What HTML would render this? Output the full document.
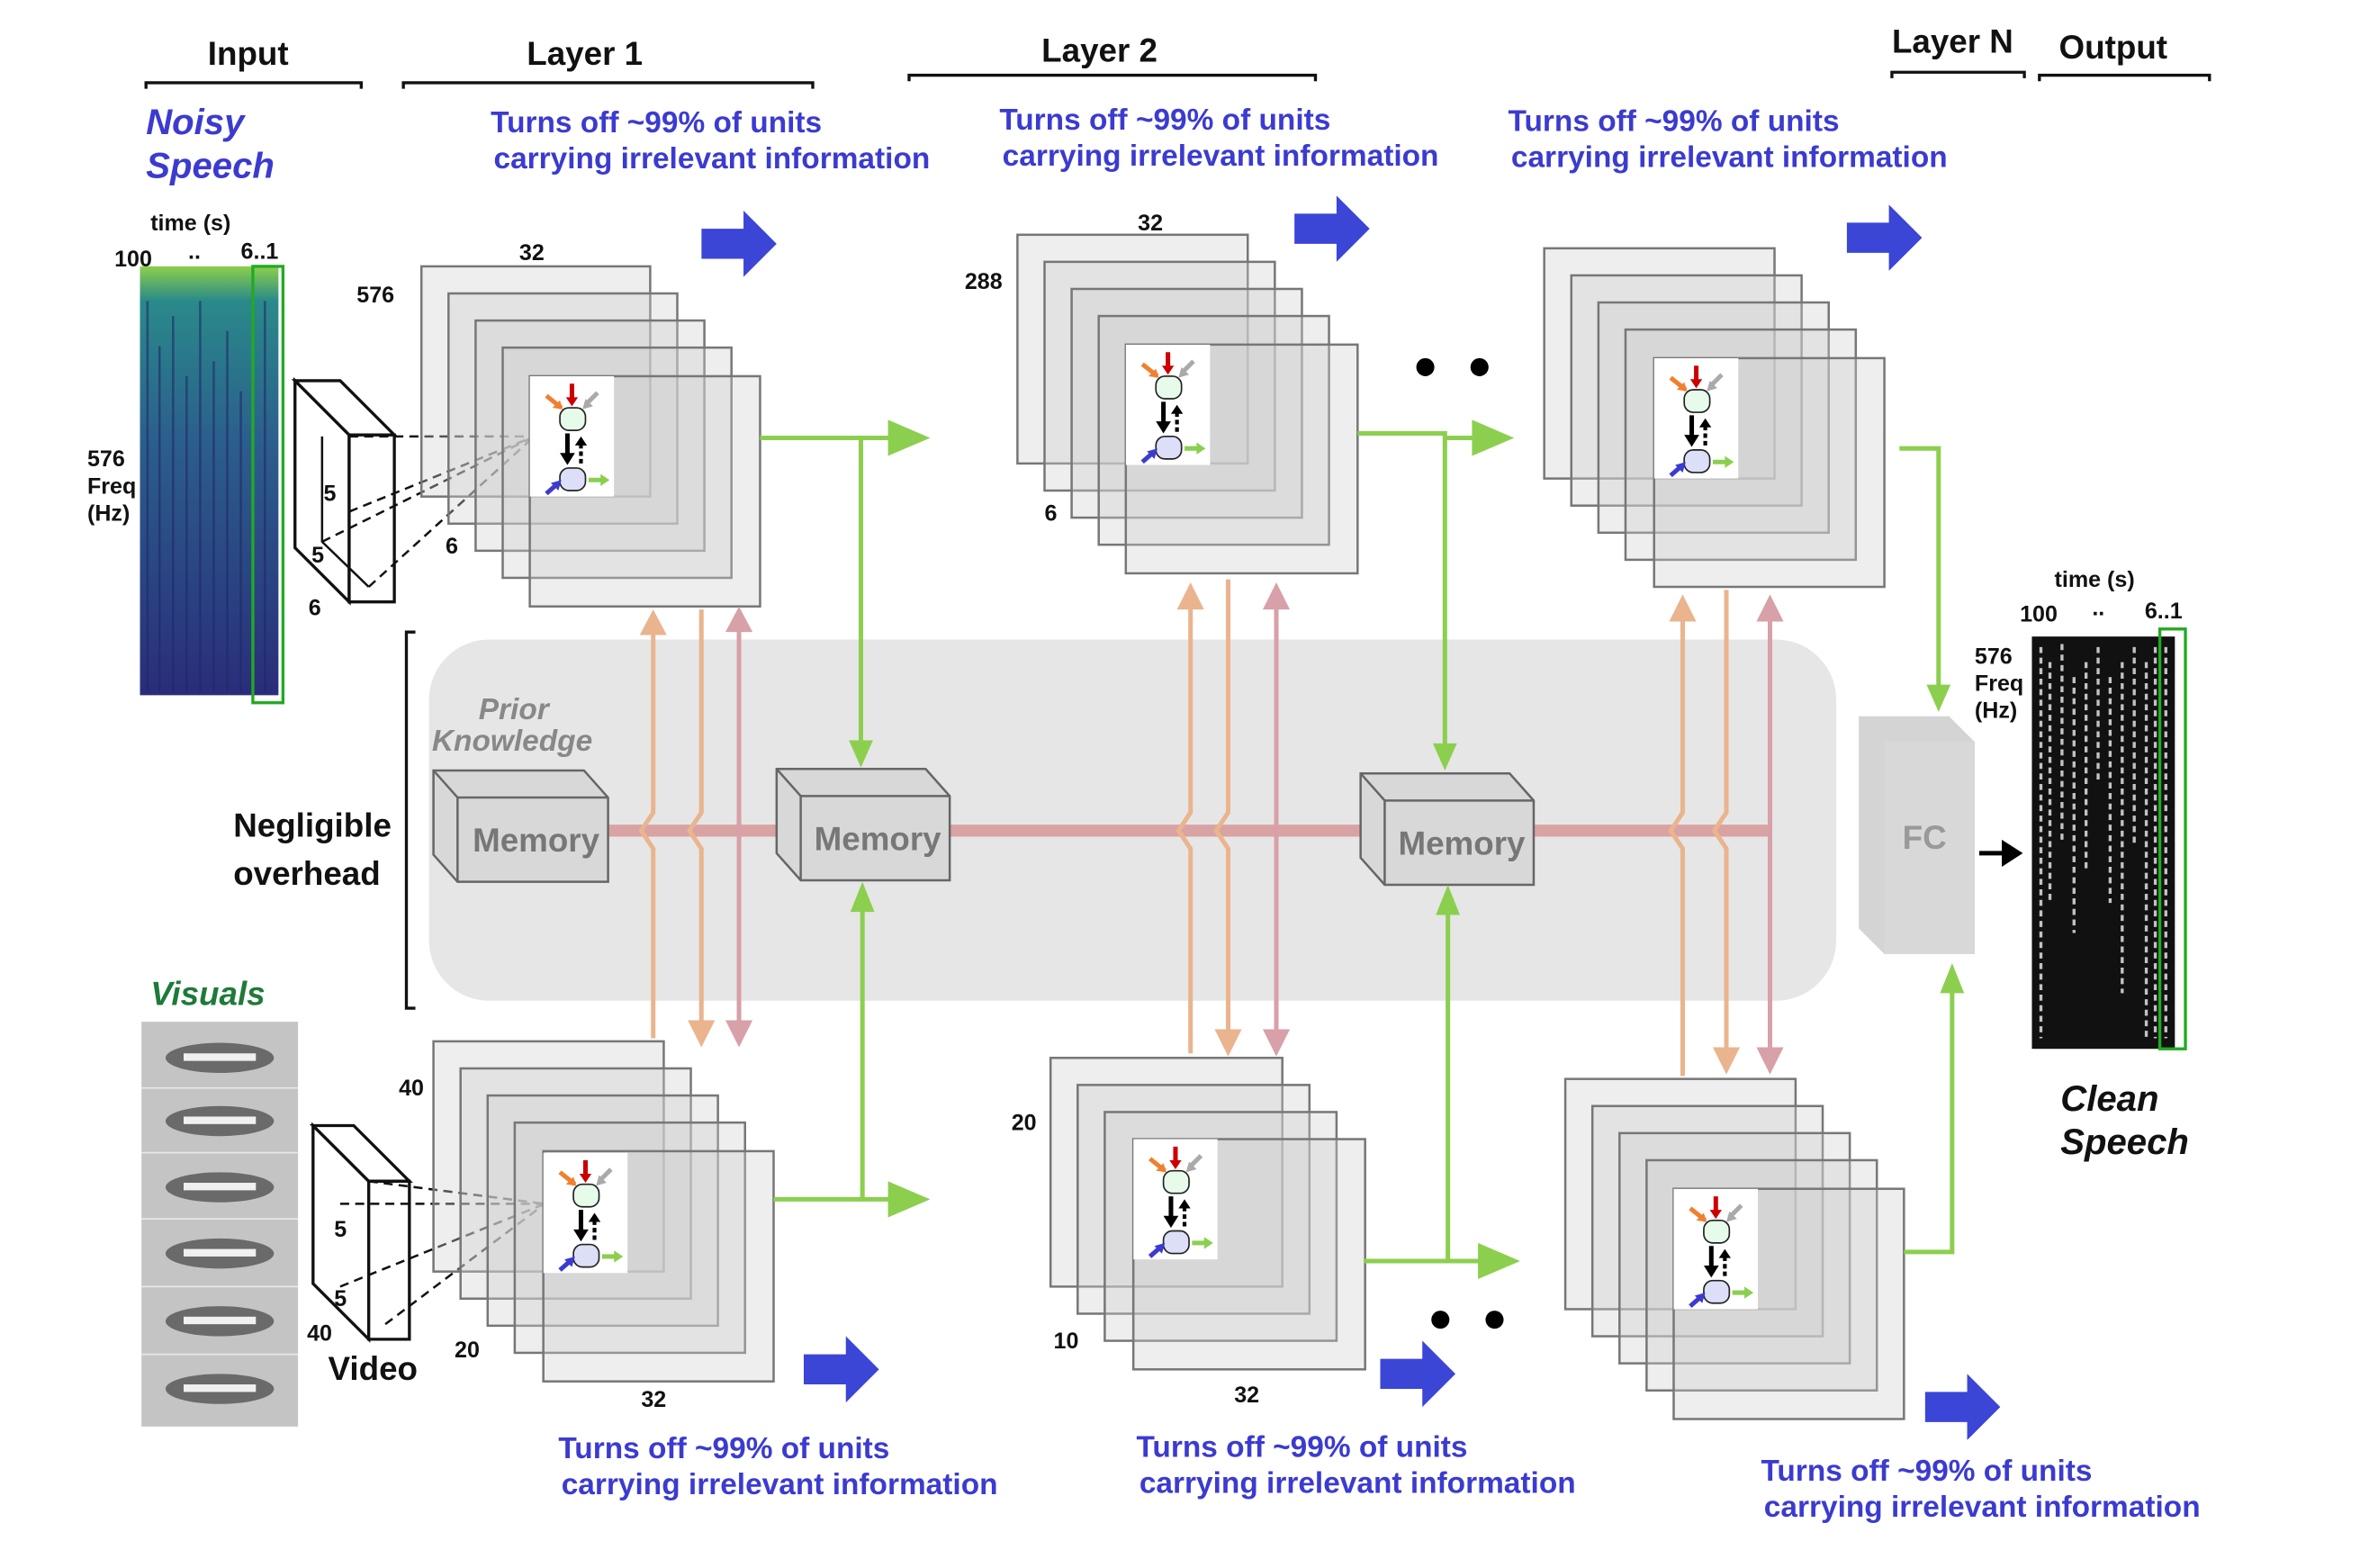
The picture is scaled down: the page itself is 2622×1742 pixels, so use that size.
<!DOCTYPE html>
<html><head><meta charset="utf-8"><style>
html,body{margin:0;padding:0;background:#fff}
svg{display:block}
text{font-family:"Liberation Sans",sans-serif;font-weight:bold}
.h{font-size:22px;fill:#111}
.b{font-size:20px;fill:#3b3bd0}
.n{font-size:15px;fill:#111}
.fr{fill:rgba(205,205,205,0.35);stroke:#777;stroke-width:1.5}
.g{stroke:#8ccf4f;stroke-width:3;fill:none}
</style></head><body>
<svg width="2622" height="1742" viewBox="0 0 1568 1042" preserveAspectRatio="none" xmlns="http://www.w3.org/2000/svg">
<defs>
<symbol id="ic" viewBox="0 0 56 80" width="56" height="80">
<rect width="56" height="80" fill="#fff"/>
<path d="M11 13 L21 21" stroke="#f08030" stroke-width="3"/><path d="M22 22 l-7 -1 l5 -5z" fill="#f08030"/>
<path d="M28 5 V15" stroke="#c00" stroke-width="3"/><path d="M24 14 h8 l-4 6z" fill="#c00"/>
<path d="M45 11 L37 19" stroke="#aaa" stroke-width="3"/><path d="M35 22 l2 -7 l5 5z" fill="#aaa"/>
<rect x="20" y="21" width="17" height="15" rx="6" fill="#e6fbea" stroke="#222"/>
<path d="M25 38 V52" stroke="#000" stroke-width="3"/><path d="M20 51 h10 l-5 8z" fill="#000"/>
<path d="M34 58 V45" stroke="#000" stroke-width="2.5" stroke-dasharray="3 2"/><path d="M30 46 h8 l-4 -6z" fill="#000"/>
<rect x="20" y="61" width="17" height="15" rx="6" fill="#dcdff7" stroke="#222"/>
<path d="M11 78 L19 71" stroke="#3b3bd0" stroke-width="3"/><path d="M21 69 l-2 7 l-5 -5z" fill="#3b3bd0"/>
<path d="M39 69 H48" stroke="#8ccf4f" stroke-width="3"/><path d="M47 65 l6 4 l-6 4z" fill="#8ccf4f"/>
</symbol>
<symbol id="ba" viewBox="0 0 50 44" width="50" height="44"><path d="M0 12 H28 V0 L50 22 L28 44 V32 H0z" fill="#3b45d6"/></symbol>
<linearGradient id="sp" x1="0" y1="0" x2="0" y2="1"><stop offset="0" stop-color="#8ccf4a"/><stop offset="0.08" stop-color="#2a8a8a"/><stop offset="0.4" stop-color="#2b5f8c"/><stop offset="1" stop-color="#2a2d7a"/></linearGradient>
</defs>

<!-- headers -->
<text class="h" x="138" y="43">Input</text>
<path d="M97 59 V55 H240 V59" stroke="#111" stroke-width="2" fill="none"/>
<text class="h" x="350" y="43">Layer 1</text>
<path d="M268 59 V55 H540 V59" stroke="#111" stroke-width="2" fill="none"/>
<text class="h" x="692" y="41">Layer 2</text>
<path d="M604 54 V50 H874 V54" stroke="#111" stroke-width="2" fill="none"/>
<text class="h" x="1257" y="35">Layer N</text>
<path d="M1257 52 V48 H1345 V52" stroke="#111" stroke-width="2" fill="none"/>
<text class="h" x="1368" y="39">Output</text>
<path d="M1355 54 V50 H1468 V54" stroke="#111" stroke-width="2" fill="none"/>

<!-- blue texts -->
<text class="b" x="326" y="88">Turns off  ~99% of units</text><text class="b" x="328" y="112">carrying irrelevant information</text>
<text class="b" x="664" y="86">Turns off  ~99% of units</text><text class="b" x="666" y="110">carrying irrelevant information</text>
<text class="b" x="1002" y="87">Turns off  ~99% of units</text><text class="b" x="1004" y="111">carrying irrelevant information</text>
<text class="b" x="371" y="969">Turns off  ~99% of units</text><text class="b" x="373" y="993">carrying irrelevant information</text>
<text class="b" x="755" y="968">Turns off  ~99% of units</text><text class="b" x="757" y="992">carrying irrelevant information</text>
<text class="b" x="1170" y="984">Turns off  ~99% of units</text><text class="b" x="1172" y="1008">carrying irrelevant information</text>
<use href="#ba" x="466" y="140"/><use href="#ba" x="860" y="130"/><use href="#ba" x="1227" y="136"/>
<use href="#ba" x="534" y="888"/><use href="#ba" x="917" y="891"/><use href="#ba" x="1279" y="913"/>

<!-- gray panel -->
<rect x="285" y="425" width="935" height="240" rx="40" fill="#e6e6e6"/>
<path d="M276 420 H270 V670 H276" stroke="#111" stroke-width="2" fill="none"/>
<text class="h" x="155" y="556">Negligible</text><text class="h" x="155" y="588">overhead</text>
<text x="318" y="478" font-size="20" font-style="italic" fill="#888">Prior</text>
<text x="287" y="499" font-size="20" font-style="italic" fill="#888">Knowledge</text>

<rect x="404" y="548" width="772" height="8" fill="#d9a3a3"/>

<g stroke="#666" stroke-width="1.5">
<path d="M288 512 h100 l16 18 v56 h-100 l-16 -18z" fill="#d8d8d8"/><path d="M288 512 l16 18 h100 M304 530 v56" fill="none"/>
<path d="M516 511 h99 l16 18 v56 h-99 l-16 -18z" fill="#d8d8d8"/><path d="M516 511 l16 18 h99 M532 529 v56" fill="none"/>
<path d="M904 514 h99 l16 18 v56 h-99 l-16 -18z" fill="#d8d8d8"/><path d="M904 514 l16 18 h99 M920 532 v56" fill="none"/>
</g>
<text x="314" y="566" font-size="22" fill="#777" font-weight="bold">Memory</text>
<text x="541" y="565" font-size="22" fill="#777" font-weight="bold">Memory</text>
<text x="929" y="568" font-size="22" fill="#777" font-weight="bold">Memory</text>

<!-- spectrogram input -->
<text class="n" x="100" y="153" font-size="16">time (s)</text>
<text class="n" x="76" y="177" font-size="16">100</text><text class="n" x="125" y="172">..</text><text class="n" x="160" y="172" font-size="16">6..1</text>
<text class="n" x="58" y="310" font-size="16">576</text><text class="n" x="58" y="328">Freq</text><text class="n" x="58" y="346">(Hz)</text>
<rect x="93" y="177" width="92" height="285" fill="url(#sp)"/>
<g stroke="#1e2a66" stroke-width="1.5" opacity="0.6"><path d="M98 200V460M106 230V460M115 210V460M124 250V460M133 200V460M142 240V460M151 220V460M160 260V460M176 200V460"/></g>
<rect x="168" y="177" width="20" height="290" fill="none" stroke="#2a2" stroke-width="2"/>

<g stroke="#111" stroke-width="2" fill="#fff">
<path d="M196 253 l36 36 v111 l-36 -36z"/><path d="M196 253 h30 l36 36 h-30z"/><path d="M232 289 h30 v111 h-30z"/>
</g>
<path d="M214 290 V360 L245 390" stroke="#111" stroke-width="1.5" fill="none"/>
<g stroke="#111" stroke-width="1.5" stroke-dasharray="6 4"><path d="M232 290 L355 290 M214 360 L355 290 M245 390 L355 290 M232 340 L355 290"/></g>
<text class="n" x="215" y="333">5</text><text class="n" x="207" y="374">5</text><text class="n" x="205" y="409">6</text>

<g><rect class="fr" x="280" y="177" width="152" height="153"/><rect class="fr" x="298" y="195" width="152" height="153"/><rect class="fr" x="316" y="213" width="152" height="153"/><rect class="fr" x="334" y="231" width="152" height="153"/><rect class="fr" x="352" y="250" width="153" height="153"/></g>
<use href="#ic" x="352" y="250"/>
<text class="n" x="345" y="173">32</text><text class="n" x="237" y="201">576</text><text class="n" x="296" y="368">6</text>

<g><rect class="fr" x="676" y="156" width="153" height="152"/><rect class="fr" x="694" y="174" width="153" height="152"/><rect class="fr" x="712" y="192" width="153" height="152"/><rect class="fr" x="730" y="210" width="153" height="152"/><rect class="fr" x="748" y="229" width="154" height="152"/></g>
<use href="#ic" x="748" y="229"/>
<text class="n" x="756" y="153">32</text><text class="n" x="641" y="192">288</text><text class="n" x="694" y="346">6</text>

<g><rect class="fr" x="1026" y="165" width="153" height="153"/><rect class="fr" x="1044" y="183" width="153" height="153"/><rect class="fr" x="1062" y="201" width="153" height="153"/><rect class="fr" x="1080" y="219" width="153" height="153"/><rect class="fr" x="1099" y="238" width="153" height="152"/></g>
<use href="#ic" x="1099" y="238"/>

<circle cx="947" cy="244" r="6"/><circle cx="983" cy="244" r="6"/>
<circle cx="957" cy="877" r="6"/><circle cx="993" cy="877" r="6"/>

<!-- visuals -->
<text x="100" y="668" font-size="22" font-style="italic" font-weight="bold" fill="#1f7a3a">Visuals</text>
<rect x="94" y="679" width="104" height="269" fill="#c4c4c4"/>
<g stroke="#e8e8e8" stroke-width="1"><path d="M94 723H198M94 766H198M94 810H198M94 855H198M94 900H198"/></g>
<g fill="#6a6a6a"><ellipse cx="146" cy="703" rx="36" ry="10"/><ellipse cx="146" cy="745" rx="36" ry="10"/><ellipse cx="146" cy="789" rx="36" ry="10"/><ellipse cx="146" cy="833" rx="36" ry="10"/><ellipse cx="146" cy="878" rx="36" ry="10"/><ellipse cx="146" cy="923" rx="36" ry="10"/></g>
<g fill="#f0f0f0"><rect x="122" y="700" width="48" height="5"/><rect x="122" y="742" width="48" height="5"/><rect x="122" y="786" width="48" height="5"/><rect x="122" y="830" width="48" height="5"/><rect x="122" y="875" width="48" height="5"/><rect x="122" y="920" width="48" height="5"/></g>
<g stroke="#111" stroke-width="2" fill="#fff">
<path d="M208 748 l37 37 v105 l-37 -37z"/><path d="M208 748 h27 l37 37 h-27z"/><path d="M245 785 h27 v105 h-27z"/>
</g>
<g stroke="#111" stroke-width="1.5" stroke-dasharray="6 4"><path d="M245 785 L362 800 M226 800 L362 800 M226 855 L362 800 M256 880 L362 800"/></g>
<text class="n" x="222" y="822">5</text><text class="n" x="222" y="868">5</text><text class="n" x="204" y="891">40</text>
<text class="h" x="218" y="917" font-size="20">Video</text>

<g><rect class="fr" x="288" y="692" width="153" height="153"/><rect class="fr" x="306" y="710" width="153" height="153"/><rect class="fr" x="324" y="728" width="153" height="153"/><rect class="fr" x="342" y="746" width="153" height="153"/><rect class="fr" x="361" y="765" width="153" height="153"/></g>
<use href="#ic" x="361" y="766"/>
<text class="n" x="265" y="728">40</text><text class="n" x="302" y="902">20</text><text class="n" x="426" y="935">32</text>

<g><rect class="fr" x="698" y="703" width="154" height="152"/><rect class="fr" x="716" y="721" width="154" height="152"/><rect class="fr" x="734" y="739" width="154" height="152"/><rect class="fr" x="753" y="757" width="154" height="153"/></g>
<use href="#ic" x="753" y="757"/>
<text class="n" x="672" y="751">20</text><text class="n" x="700" y="896">10</text><text class="n" x="820" y="932">32</text>

<g><rect class="fr" x="1040" y="717" width="153" height="153"/><rect class="fr" x="1058" y="735" width="153" height="153"/><rect class="fr" x="1076" y="753" width="153" height="153"/><rect class="fr" x="1094" y="771" width="153" height="153"/><rect class="fr" x="1112" y="790" width="153" height="153"/></g>
<use href="#ic" x="1112" y="790"/>

<g class="g">
<path d="M505 291 H572 V500"/><path d="M902 288 H960 V502"/><path d="M1262 298 H1288 V462"/>
<path d="M514 797 H573 V598"/><path d="M906 838 H962 V600"/><path d="M1265 832 H1297 V652"/>
<path d="M570 291 H595"/><path d="M960 291 H985"/><path d="M573 797 H596"/><path d="M962 838 H990"/>
</g>
<g fill="#8ccf4f">
<path d="M564 492 h16 l-8 18z"/><path d="M952 494 h16 l-8 18z"/><path d="M1280 455 h16 l-8 18z"/>
<path d="M565 606 h16 l-8 -20z"/><path d="M954 608 h16 l-8 -20z"/><path d="M1289 660 h16 l-8 -20z"/>
<path d="M590 279 l28 12 l-28 12z"/><path d="M978 279 l28 12 l-28 12z"/><path d="M590 785 l28 12 l-28 12z"/><path d="M982 826 l28 12 l-28 12z"/>
</g>

<g stroke-width="3" fill="none">
<path d="M434 420 V540 l-8 12 l8 12 V690" stroke="#eab48e"/>
<path d="M466 405 V540 l-8 12 l8 12 V680" stroke="#eab48e"/>
<path d="M491 418 V680" stroke="#d8a0a8"/>
<path d="M791 400 V540 l-8 12 l8 12 V700" stroke="#eab48e"/>
<path d="M816 385 V540 l-8 12 l8 12 V688" stroke="#eab48e"/>
<path d="M848 400 V688" stroke="#d8a0a8"/>
<path d="M1118 405 V540 l-8 12 l8 12 V715" stroke="#eab48e"/>
<path d="M1147 392 V540 l-8 12 l8 12 V700" stroke="#eab48e"/>
<path d="M1176 405 V700" stroke="#d8a0a8"/>
</g>
<path d="M425 422 l9 -17 l9 17z" fill="#eab48e"/><path d="M457 678 h18 l-9 18z" fill="#eab48e"/>
<path d="M482 420 l9 -17 l9 17z M482 678 h18 l-9 18z" fill="#d8a0a8"/>
<path d="M782 405 l9 -18 l9 18z" fill="#eab48e"/><path d="M807 684 h18 l-9 18z" fill="#eab48e"/>
<path d="M839 405 l9 -18 l9 18z M839 684 h18 l-9 18z" fill="#d8a0a8"/>
<path d="M1109 413 l9 -18 l9 18z" fill="#eab48e"/><path d="M1138 696 h18 l-9 18z" fill="#eab48e"/>
<path d="M1167 413 l9 -18 l9 18z M1167 696 h18 l-9 18z" fill="#d8a0a8"/>

<path d="M1235 476 h60 l17 17 v141 h-60 l-17 -17z" fill="#d4d4d4"/>
<path d="M1252 493 h60 v141 h-60z" fill="#d8d8d8"/>
<text x="1264" y="564" font-size="22" fill="#999" font-weight="bold">FC</text>
<path d="M1315 567 H1335" stroke="#000" stroke-width="3"/><path d="M1330 558 l14 9 l-14 9z" fill="#000"/>

<text class="n" x="1365" y="390" font-size="16">time (s)</text>
<text class="n" x="1342" y="413" font-size="16">100</text><text class="n" x="1390" y="409">..</text><text class="n" x="1425" y="411" font-size="16">6..1</text>
<text class="n" x="1312" y="441" font-size="16">576</text><text class="n" x="1312" y="459">Freq</text><text class="n" x="1312" y="477">(Hz)</text>
<rect x="1350" y="423" width="95" height="274" fill="#111"/>
<g stroke="#fff" stroke-width="2" opacity="0.75" stroke-dasharray="4 3">
<path d="M1356 430 V690 M1362 440 V600 M1370 428 V560 M1378 450 V620 M1386 440 V580 M1394 430 V520 M1402 450 V600 M1410 440 V660 M1418 430 V560 M1426 440 V690 M1432 430 V690 M1439 430 V690"/>
</g>
<rect x="1435" y="418" width="17" height="279" fill="none" stroke="#2a2" stroke-width="2"/>
<text x="1369" y="738" font-size="24" font-style="italic" font-weight="bold" fill="#111">Clean</text>
<text x="1369" y="767" font-size="24" font-style="italic" font-weight="bold" fill="#111">Speech</text>

<text x="97" y="89" font-size="24" font-style="italic" font-weight="bold" fill="#3b3bd0">Noisy</text>
<text x="97" y="118" font-size="24" font-style="italic" font-weight="bold" fill="#3b3bd0">Speech</text>
</svg>
</body></html>
